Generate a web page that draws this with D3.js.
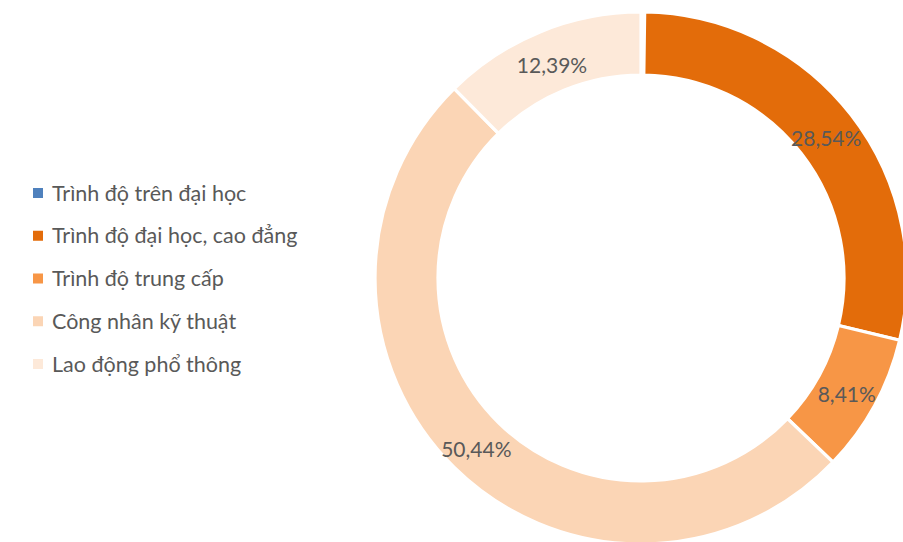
<!DOCTYPE html>
<html><head><meta charset="utf-8">
<script src="https://cdn.jsdelivr.net/npm/d3@7"></script>
<style>body{margin:0;background:#fff}</style>
</head><body><svg id="c" width="903" height="542"></svg>
<script>
const categories = ["Trình độ trên đại học","Trình độ đại học, cao đẳng","Trình độ trung cấp","Công nhân kỹ thuật","Lao động phổ thông"];
const values = [0.22, 28.54, 8.41, 50.44, 12.39];
const labels = ["", "28,54%", "8,41%", "50,44%", "12,39%"];
const colors = ["#4F81BD","#E36C0A","#F79646","#FBD5B5","#FDE9D9"];

const svg = d3.select("#c");
const cx = 641, cy = 278, rO = 266, rI = 203;
const font = "Lato, sans-serif";
const pie = d3.pie().sort(null).value(d => d)(values);
const arc = d3.arc().innerRadius(rI).outerRadius(rO);
const g = svg.append("g").attr("transform", `translate(${cx},${cy})`);
g.selectAll("path").data(pie).join("path")
  .attr("d", arc).attr("fill", (d,i) => colors[i])
  .attr("stroke", "#fff").attr("stroke-width", (d,i) => i === 0 ? 4.5 : 3.2).attr("stroke-linejoin","miter");
const mid = d3.arc().innerRadius((rI+rO)/2).outerRadius((rI+rO)/2);
g.selectAll("text").data(pie).join("text")
  .attr("transform", d => `translate(${mid.centroid(d)})`)
  .attr("text-anchor","middle").attr("dy","0.55em")
  .attr("font-family", font).attr("font-size", 21).attr("fill","#595959")
  .text((d,i) => labels[i]);

const leg = svg.append("g");
const ly = d3.scalePoint().domain(categories).range([193, 364]);
categories.forEach((c,i) => {
  const y = ly(c);
  leg.append("rect").attr("x",33).attr("y",y-5).attr("width",10).attr("height",10).attr("fill",colors[i]);
  leg.append("text").attr("x",52).attr("y",y).attr("dy","0.35em")
    .attr("font-family", font).attr("font-size", 21.5).attr("fill","#595959").text(c);
});
</script></body></html>
